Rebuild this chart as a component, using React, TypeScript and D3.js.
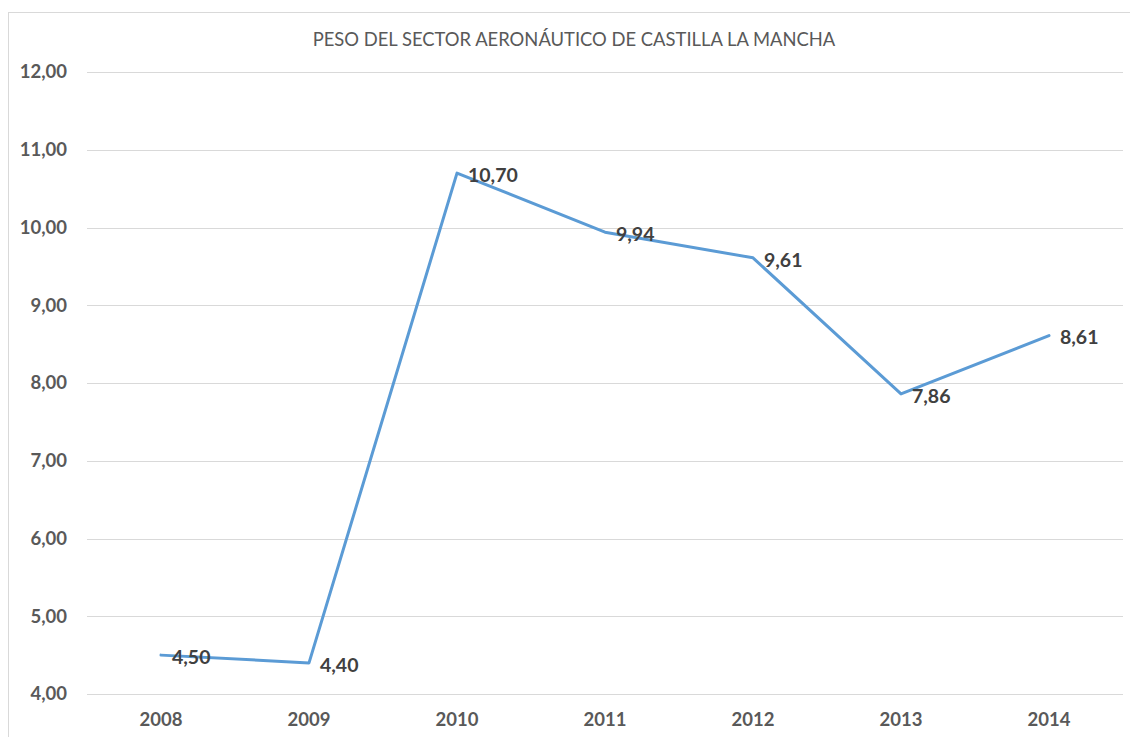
import React, { useRef, useEffect } from 'react';
import * as d3 from 'd3';

const title = 'PESO DEL SECTOR AERONÁUTICO DE CASTILLA LA MANCHA';
const years = ['2008', '2009', '2010', '2011', '2012', '2013', '2014'];
const values = [4.5, 4.4, 10.7, 9.94, 9.61, 7.86, 8.61];
const yTicks = [4, 5, 6, 7, 8, 9, 10, 11, 12];

const fmt = (v: number) => v.toFixed(2).replace('.', ',');

const App = () => {
  const ref = useRef<SVGSVGElement>(null);

  useEffect(() => {
    const svg = d3.select(ref.current);
    svg.selectAll('*').remove();
    const W = 1130, H = 737;
    const font = 'Lato, "Open Sans", sans-serif';

    // outer chart frame
    svg.append('rect')
      .attr('x', 8.5).attr('y', 12.5)
      .attr('width', W).attr('height', H)
      .attr('fill', '#fff').attr('stroke', '#d9d9d9');

    const x = d3.scaleBand().domain(years).range([87, 1123]);
    const y = d3.scaleLinear().domain([4, 12]).range([694, 72]);

    svg.append('text')
      .attr('x', 574).attr('y', 46)
      .attr('text-anchor', 'middle')
      .attr('font-family', font).attr('font-size', 18.4)
      .attr('fill', '#595959')
      .text(title);

    const grid = svg.append('g');
    grid.selectAll('line').data(yTicks).join('line')
      .attr('x1', 87).attr('x2', 1123)
      .attr('y1', d => Math.round(y(d)) + 0.5).attr('y2', d => Math.round(y(d)) + 0.5)
      .attr('stroke', '#d9d9d9').attr('stroke-width', 1);

    svg.append('g').selectAll('text').data(yTicks).join('text')
      .attr('x', 67).attr('y', d => y(d))
      .attr('dy', '0.35em')
      .attr('text-anchor', 'end')
      .attr('font-family', font).attr('font-size', 18.5).attr('font-weight', 700)
      .attr('fill', '#595959')
      .text(d => fmt(d));

    svg.append('g').selectAll('text').data(years).join('text')
      .attr('x', d => (x(d) ?? 0) + x.bandwidth() / 2).attr('y', 726)
      .attr('text-anchor', 'middle')
      .attr('font-family', font).attr('font-size', 18.5).attr('font-weight', 700)
      .attr('fill', '#595959')
      .text(d => d);

    const line = d3.line<number>()
      .x((_, i) => (x(years[i]) ?? 0) + x.bandwidth() / 2)
      .y(d => y(d));

    svg.append('path')
      .datum(values)
      .attr('fill', 'none')
      .attr('stroke', '#5b9bd5')
      .attr('stroke-width', 3)
      .attr('stroke-linejoin', 'round')
      .attr('stroke-linecap', 'round')
      .attr('d', line);

    svg.append('g').selectAll('text').data(values).join('text')
      .attr('x', (_, i) => (x(years[i]) ?? 0) + x.bandwidth() / 2 + 11)
      .attr('y', d => y(d) + 2)
      .attr('dy', '0.35em')
      .attr('font-family', font).attr('font-size', 19.5).attr('font-weight', 700)
      .attr('fill', '#404040')
      .text(d => fmt(d));
  }, []);

  return (
    <svg ref={ref} width={1130} height={737}
      style={{ position: 'absolute', left: 0, top: 0, background: '#fff' }} />
  );
};

export default App;
